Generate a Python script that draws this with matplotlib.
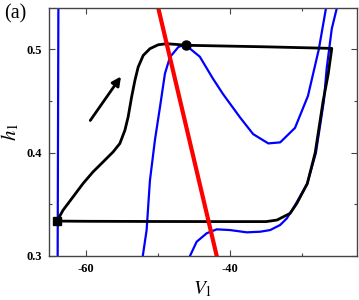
import numpy as np
import matplotlib
matplotlib.use("Agg")
import matplotlib.pyplot as plt
from matplotlib.ticker import MultipleLocator

plt.rcParams['font.family'] = ['Liberation Serif', 'DejaVu Serif']
plt.rcParams['mathtext.fontset'] = 'stix'

# nullcline esquerda (quase vertical)
azul1_x = [-63.9, -63.8]
azul1_y = [0.30, 0.54]

# nullcline do meio (forma de U)
azul2_x = [-52.1, -51.57, -51.11, -50.42, -49.72, -49.03, -48.33, -47.18, -46.6, -45.6,
           -44.2, -42.4, -41.0, -38.6, -36.8, -34.7, -33.05, -31.0, -29.2, -27.7, -27.0, -26.7]
azul2_y = [0.300, 0.325, 0.373, 0.412, 0.444, 0.4765, 0.4926, 0.5022, 0.504, 0.501,
           0.493, 0.472, 0.457, 0.434, 0.418, 0.409, 0.410, 0.424, 0.455, 0.500, 0.528, 0.540]

# nullcline direita
azul3_x = [-45.56, -44.63, -43.24, -41.85, -40.0, -37.68, -35.83, -34.44, -33.06, -32.13,
           -31.0, -29.3, -28.1, -27.0, -26.6, -25.9, -25.2]
azul3_y = [0.300, 0.3138, 0.322, 0.3258, 0.3251, 0.3229, 0.3235, 0.3251, 0.330, 0.3364,
           0.349, 0.370, 0.400, 0.450, 0.482, 0.520, 0.540]

# reta vermelha
vermelho_x = [-49.95, -41.85]
vermelho_y = [0.54, 0.30]

# trajetoria (ciclo)
preto_x = [-64.0, -60.0, -50.0, -40.0, -35.0, -33.5, -31.67, -30.74, -29.3, -28.2,
           -27.1, -26.4, -25.9, -35.0, -46.1, -47.4, -48.79, -49.96, -51.11, -52.04,
           -52.74, -53.19, -53.65, -54.13, -54.58, -55.28, -56.21, -57.6, -58.99, -60.38,
           -61.76, -63.15, -64.0]
preto_y = [0.3338, 0.3336, 0.3334, 0.3333, 0.3333, 0.3348, 0.3413, 0.351, 0.370, 0.400,
           0.450, 0.476, 0.501, 0.5025, 0.504, 0.5048, 0.5055, 0.5045, 0.5007, 0.4942,
           0.4829, 0.470, 0.4539, 0.4346, 0.4217, 0.4089, 0.4008, 0.3911, 0.3815, 0.3702,
           0.3573, 0.3444, 0.3338]

circulo = (-46.1, 0.504)
quadrado = (-64.0, 0.3338)
seta_inicio = (-59.6, 0.429)
seta_fim = (-54.9, 0.476)

fig = plt.figure(figsize=(3.59, 3.0), dpi=100)
ax = fig.add_axes([0.1365, 0.1467, 0.858, 0.8263])

ax.plot(azul1_x, azul1_y, color='#0000ff', lw=1.6)
ax.plot(azul2_x, azul2_y, color='#0000ff', lw=1.6, solid_joinstyle='round')
ax.plot(azul3_x, azul3_y, color='#0000ff', lw=1.6, solid_joinstyle='round')
ax.plot(preto_x, preto_y, color='black', lw=2.0, solid_joinstyle='round')
ax.plot(vermelho_x, vermelho_y, color='#ff0000', lw=3.0)
ax.plot(*circulo, 'o', color='black', ms=6.5)
ax.plot(*quadrado, 's', color='black', ms=5.5)

ax.annotate('', xy=seta_fim, xytext=seta_inicio,
            arrowprops=dict(arrowstyle='-|>', color='black', lw=2.0, mutation_scale=13))

ax.set_xlim(-65.1, -22.4)
ax.set_ylim(0.3, 0.54)
ax.xaxis.set_minor_locator(MultipleLocator(10))
ax.yaxis.set_minor_locator(MultipleLocator(0.05))
ax.set_xticks([-60, -40])
ax.set_xticklabels(['-60', '-40'])
ax.set_yticks([0.3, 0.4, 0.5])
ax.set_yticklabels(['0.3', '0.4', '0.5'])
ax.tick_params(which='both', direction='in', top=True, right=True, labelsize=9, width=0.8, color='#444444')
ax.tick_params(which='major', length=4, pad=5)
ax.tick_params(which='minor', length=2.5)
for l in ax.get_xticklabels() + ax.get_yticklabels():
    l.set_fontweight('bold')
for s in ax.spines.values():
    s.set_color('#444444')
    s.set_linewidth(1.0)

ax.set_xlabel('$V_1$', fontsize=14, labelpad=3)
ax.set_ylabel('$h_1$', fontsize=15, labelpad=4)
fig.text(0.012, 0.955, '(a)', fontsize=14.5, ha='left', va='center')

fig.savefig('out.png', dpi=100)
